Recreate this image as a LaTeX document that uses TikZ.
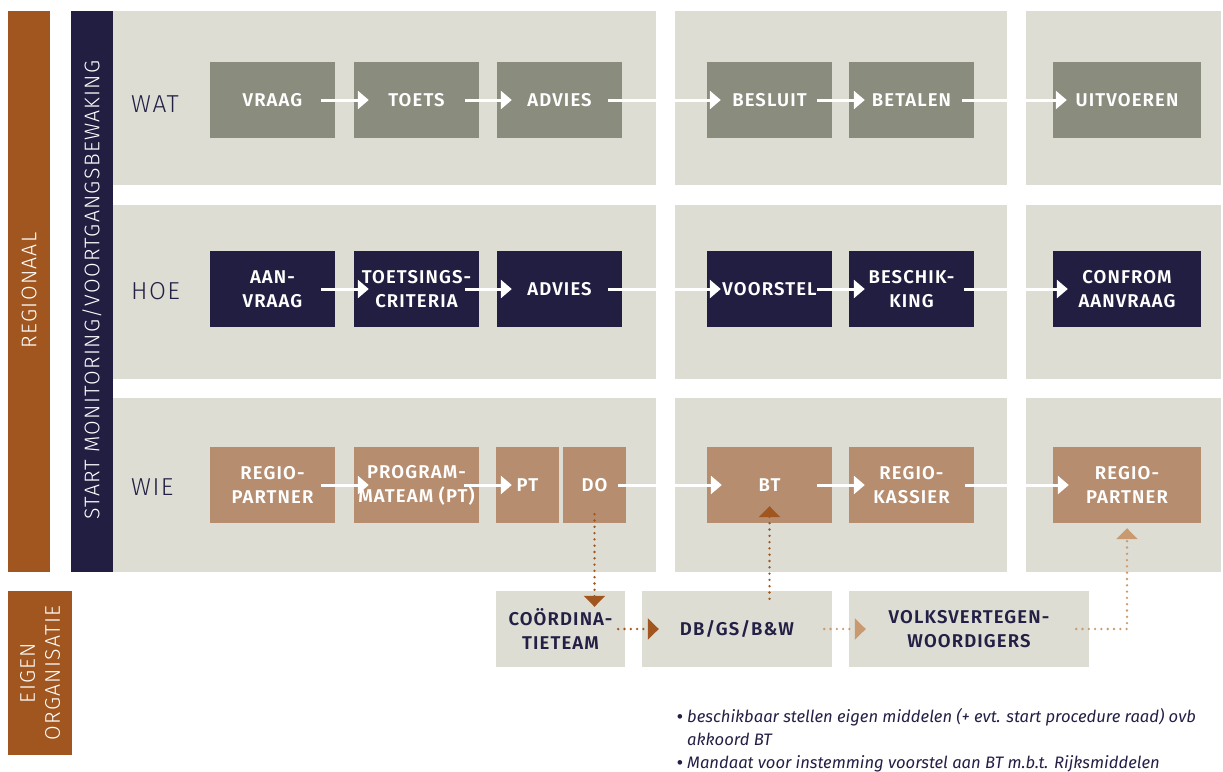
\documentclass[tikz,border=0pt]{standalone}
\usepackage{fontspec}
\setmainfont{Fira Sans}
\newfontfamily\boxf{Fira Sans SemiBold}[LetterSpace=6]
\newfontfamily\lightf{Fira Sans Light}[LetterSpace=6]
\newfontfamily\notef{Fira Sans}[ItalicFont={Fira Sans Italic}]
\usetikzlibrary{arrows.meta,calc}
\definecolor{orangebar}{HTML}{A0561E}
\definecolor{navy}{HTML}{221E42}
\definecolor{panel}{HTML}{DDDDD4}
\definecolor{graybox}{HTML}{8A8C7E}
\definecolor{brownbox}{HTML}{B68D6E}
\definecolor{tanc}{HTML}{C99A70}
\definecolor{txt}{HTML}{231F45}
\tikzset{
  box/.style={minimum width=125pt, minimum height=76pt, inner sep=0pt, align=center,
    font=\boxf\fontsize{18.5}{24}\selectfont, text=white},
  watbox/.style={box, fill=graybox},
  hoebox/.style={box, fill=navy},
  wiebox/.style={box, fill=brownbox},
  orgbox/.style={box, fill=panel, text=txt},
  flow/.style={white, line width=3pt, -{Triangle[width=18pt,length=11pt]}},
  dotb/.style={orangebar, line width=2.6pt, line cap=round, dash pattern=on 0pt off 6.3pt,
    -{Triangle[width=21pt,length=11pt]}},
  dott/.style={dotb, tanc},
  rowlab/.style={anchor=west, inner sep=0pt, text=txt, font=\lightf\fontsize{24.5}{28}\selectfont},
  vlab/.style={rotate=90, inner sep=0pt, text=white, align=center,
    font=\lightf\fontsize{21.2}{25}\selectfont},
  notetxt/.style={anchor=base west, inner sep=0pt, text=txt, font=\notef\itshape\fontsize{16.6}{23}\selectfont},
  bullettxt/.style={anchor=base, inner sep=0pt, text=txt, font=\notef\bfseries\fontsize{16.6}{23}\selectfont}
}
\begin{document}
\begin{tikzpicture}[x=1pt,y=-1pt]
\useasboundingbox (0,0) rectangle (1223,771);
% side bars
\fill[orangebar] (8,11) rectangle (50,572);
\fill[navy] (71,11) rectangle (113,572);
\fill[orangebar] (8,591) rectangle (72,755);
% panels
\foreach \ya/\yb in {11/185,205/379,398/572}{
  \fill[panel] (113,\ya) rectangle (656,\yb);
  \fill[panel] (675,\ya) rectangle (1007,\yb);
  \fill[panel] (1026,\ya) rectangle (1221,\yb);
}
% vertical labels
\node[vlab] (regionaal) at (29,290.5) {REGIONAAL};
\node[vlab] (startmon) at (92,290) {START MONITORING/VOORTGANGSBEWAKING};
\node[vlab] (eigen) at (40,673) {EIGEN\\ORGANISATIE};
% row labels
\node[rowlab] (wat) at (131,104) {WAT};
\node[rowlab] (hoe) at (131,291) {HOE};
\node[rowlab] (wie) at (131,487) {WIE};
% row 1
\node[watbox] (vraag) at (272.5,100) {VRAAG};
\node[watbox] (toets) at (416.5,100) {TOETS};
\node[watbox] (advies1) at (559.5,100) {ADVIES};
\node[watbox] (besluit) at (769.5,100) {BESLUIT};
\node[watbox] (betalen) at (911.5,100) {BETALEN};
\node[watbox, minimum width=148pt] (uitvoeren) at (1127,100) {UITVOEREN};
% row 2
\node[hoebox] (aanvraag) at (272.5,289) {AAN-\\VRAAG};
\node[hoebox] (criteria) at (416.5,289) {TOETSINGS-\\CRITERIA};
\node[hoebox] (advies2) at (559.5,289) {ADVIES};
\node[hoebox] (voorstel) at (769.5,289) {VOORSTEL};
\node[hoebox] (beschikking) at (911.5,289) {BESCHIK-\\KING};
\node[hoebox, minimum width=148pt] (confrom) at (1127,289) {CONFROM\\AANVRAAG};
% row 3
\node[wiebox] (rp1) at (272.5,485) {REGIO-\\PARTNER};
\node[wiebox] (progteam) at (416.5,485) {PROGRAM-\\MATEAM (PT)};
\node[wiebox, minimum width=63pt] (pt) at (527.5,485) {PT};
\node[wiebox, minimum width=63pt] (do) at (594.5,485) {DO};
\node[wiebox] (bt) at (769.5,485) {BT};
\node[wiebox] (kassier) at (911.5,485) {REGIO-\\KASSIER};
\node[wiebox, minimum width=148pt] (rp2) at (1127,485) {REGIO-\\PARTNER};
% bottom row
\node[orgbox, minimum width=129pt] (coord) at (560.5,629) {COÖRDINA-\\TIETEAM};
\node[orgbox, minimum width=190pt] (db) at (737,629) {DB/GS/B\&W};
\node[orgbox, minimum width=240pt] (volks) at (969,629) {VOLKSVERTEGEN-\\WOORDIGERS};
% white flow arrows
\draw[flow] ($(vraag.east)+(-14,0)$) -- ($(toets.west)+(15,0)$);
\draw[flow] ($(toets.east)+(-14,0)$) -- ($(advies1.west)+(15,0)$);
\draw[flow] ($(advies1.east)+(-14,0)$) -- ($(besluit.west)+(14,0)$);
\draw[flow] ($(besluit.east)+(-15,0)$) -- ($(betalen.west)+(16,0)$);
\draw[flow] ($(betalen.east)+(-12,0)$) -- ($(uitvoeren.west)+(14,0)$);
\draw[flow] ($(aanvraag.east)+(-14,0)$) -- ($(criteria.west)+(15,0)$);
\draw[flow] ($(criteria.east)+(-14,0)$) -- ($(advies2.west)+(15,0)$);
\draw[flow] ($(advies2.east)+(-14,0)$) -- ($(voorstel.west)+(14,0)$);
\draw[flow] ($(voorstel.east)+(-15,0)$) -- ($(beschikking.west)+(16,0)$);
\draw[flow] ($(beschikking.east)+(-10,0)$) -- ($(confrom.west)+(15,0)$);
\draw[flow] ($(rp1.east)+(-14,0)$) -- ($(progteam.west)+(15,0)$);
\draw[flow] ($(progteam.east)+(-15,0)$) -- ($(pt.west)+(16,0)$);
\draw[flow] ($(do.east)+(-8,0)$) -- ($(bt.west)+(15,0)$);
\draw[flow] ($(bt.east)+(-15,0)$) -- ($(kassier.west)+(16,0)$);
\draw[flow] ($(kassier.east)+(-9,0)$) -- ($(rp2.west)+(16,0)$);
% dotted arrows
\draw[dotb] ($(do.south)+(0,-9)$) -- ($(do.south |- coord.north)+(0,16)$);
\draw[dotb] ($(coord.east)+(-7,0)$) -- ($(db.west)+(17,0)$);
\draw[dotb] ($(bt.south |- db.north)+(0,8)$) -- ($(bt.south)+(0,-17)$);
\draw[dott] ($(db.east)+(-8,0)$) -- ($(volks.west)+(17,0)$);
\draw[dott] ($(volks.east)+(-13,0)$) -| ($(rp2.south)+(0,5)$);
% notes
\node[bullettxt] (b1) at (680,722) {\textbullet};
\node[notetxt] (n1) at (687,722) {beschikbaar stellen eigen middelen (+ evt. start procedure raad) ovb};
\node[notetxt] (n2) at (687,745) {akkoord BT};
\node[bullettxt] (b2) at (680,768) {\textbullet};
\node[notetxt] (n3) at (687,768) {Mandaat voor instemming voorstel aan BT m.b.t. Rijksmiddelen};
\end{tikzpicture}
\end{document}
